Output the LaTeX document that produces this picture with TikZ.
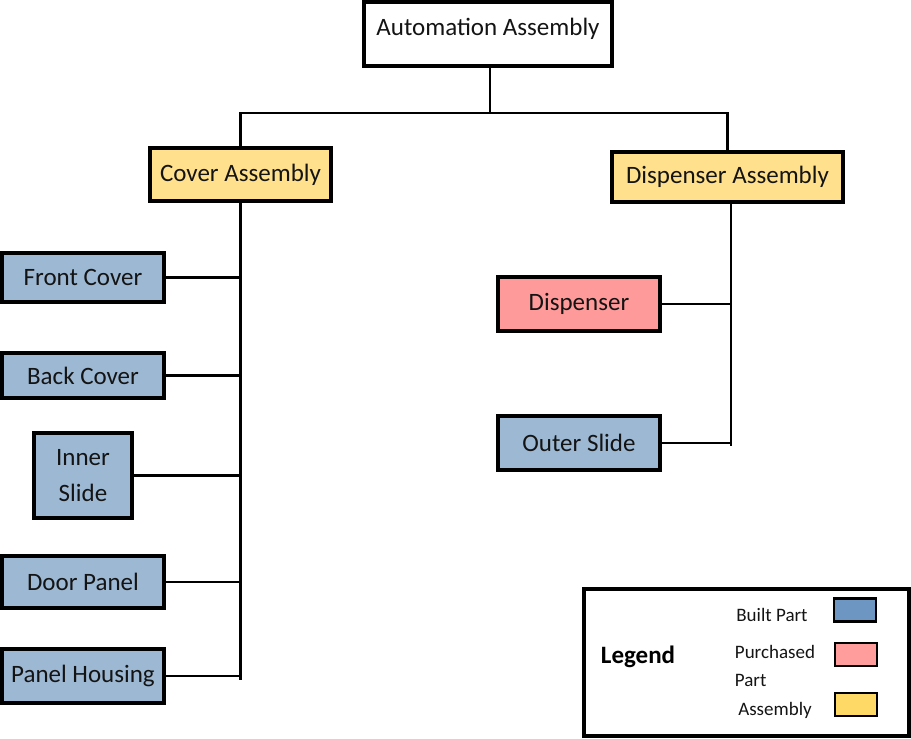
\documentclass[tikz,border=0pt]{standalone}
\usepackage{fontspec}
\setmainfont{Carlito}
\definecolor{builtfill}{HTML}{9DB8D3}
\definecolor{purchfill}{HTML}{FF9A9A}
\definecolor{asmfill}{HTML}{FFE08C}
\definecolor{legblue}{HTML}{6E96C3}
\definecolor{legpink}{HTML}{FF9C9C}
\definecolor{legyellow}{HTML}{FFD965}
\tikzset{
  box/.style={draw=black, line width=3.4pt, inner sep=0pt, font=\fontsize{25}{28}\selectfont, text=black!92},
  built/.style={box, fill=builtfill},
  purch/.style={box, fill=purchfill},
  asm/.style={box, fill=asmfill},
  conn/.style={draw=black, line width=2.4pt},
  legtext/.style={font=\fontsize{19}{22}\selectfont, text=black!92, inner sep=0pt},
  swatch/.style={draw=black, line width=2.6pt, minimum width=42pt, minimum height=23pt, inner sep=0pt}
}
\begin{document}
\begin{tikzpicture}[x=1pt,y=-1pt]
\useasboundingbox (0,0) rectangle (911,739);
% top
\node[box, fill=white, minimum width=248pt, text height=33pt, text depth=31pt, inner xsep=0pt] (top) at (488,34) {Automation Assembly};
\node[asm, minimum width=181pt, minimum height=53pt] (cover) at (240.5,174.5) {Cover Assembly};
\node[asm, minimum width=231pt, minimum height=50pt] (dasm) at (727.5,177) {Dispenser Assembly};
% cover children
\node[built, minimum width=162pt, minimum height=49pt] (fc) at (83,277.5) {Front Cover};
\node[built, minimum width=162pt, minimum height=45pt] (bc) at (83,375.5) {Back Cover};
\node[built, minimum width=98pt, minimum height=85pt, align=center, font=\fontsize{25}{36}\selectfont] (is) at (83,475.5) {Inner\\Slide};
\node[built, minimum width=162pt, minimum height=52pt] (dp) at (83,582) {Door Panel};
\node[built, minimum width=162pt, minimum height=54pt] (ph) at (83,676) {Panel Housing};
% dispenser children
\node[purch, minimum width=162pt, minimum height=54pt] (disp) at (579,304) {Dispenser};
\node[built, minimum width=162pt, minimum height=54pt] (os) at (579,443) {Outer Slide};
% connectors
\coordinate (tj) at (490,113);
\draw[conn] (top.south -| tj) -- (tj);
\draw[conn] (tj) -| (cover.north);
\draw[conn] (tj) -| (dasm.north);
\coordinate (cend) at (240.5,680);
\draw[conn] (cover.south) -- (cend);
\draw[conn] (fc.east) -- (fc.east -| cend);
\draw[conn] (bc.east) -- (bc.east -| cend);
\draw[conn] (is.east) -- (is.east -| cend);
\draw[conn] (dp.east) -- (dp.east -| cend);
\draw[conn] (ph.east) -- (ph.east -| cend);
\coordinate (dend) at (731,446);
\draw[conn] (dasm.south -| dend) -- (dend);
\draw[conn] (disp.east) -- (disp.east -| dend);
\draw[conn] (os.east) -- (os.east -| dend);
% legend
\node[draw=black, line width=3.4pt, minimum width=325pt, minimum height=147pt, inner sep=0pt] (leg) at (746.5,662.5) {};
\node[legtext, font=\fontsize{25}{28}\selectfont\bfseries, text=black] (legt) at (638,657) {Legend};
\node[legtext] (lbuilt) at (772,615) {Built Part};
\node[legtext, align=left, font=\fontsize{19}{28}\selectfont] (lpurch) at (775,666) {Purchased\\Part};
\node[legtext] (lasm) at (775,710) {Assembly};
\node[swatch, fill=legblue] (sb) at (855,610) {};
\node[swatch, fill=legpink] (sp) at (856,654.5) {};
\node[swatch, fill=legyellow] (sy) at (856,704.5) {};
\end{tikzpicture}
\end{document}
